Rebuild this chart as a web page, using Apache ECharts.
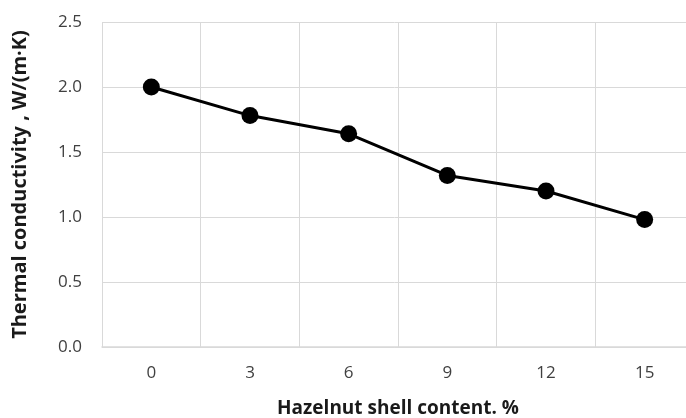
<!DOCTYPE html>
<html>
<head>
<meta charset="utf-8">
<script src="https://cdn.jsdelivr.net/npm/echarts@6/dist/echarts.min.js"></script>
<style>
  html, body { margin: 0; padding: 0; background: #fff; }
  #chart { width: 686px; height: 418px; }
</style>
</head>
<body>
<div id="chart"></div>
<script>
  // shell content, %
  var categories = ['0', '3', '6', '9', '12', '15'];
  // thermal conductivity, W/(m·K)
  var conductivity = [2.0, 1.78, 1.64, 1.32, 1.20, 0.98];

  var font = '"Open Sans", "Liberation Sans", sans-serif';
  var chart = echarts.init(document.getElementById('chart'));

  chart.setOption({
    animation: false,
    grid: {
      left: 102,
      width: 592,   // plot runs a bit past the right edge of the picture
      top: 22,
      height: 325,
      outerBoundsMode: 'none',
      containLabel: false
    },
    xAxis: {
      type: 'category',
      data: categories,
      boundaryGap: true,
      name: 'Hazelnut shell content. %',
      nameLocation: 'middle',
      nameGap: 52,
      nameTextStyle: { fontFamily: font, fontSize: 19, fontWeight: 'bold', color: '#1a1a1a' },
      axisLine: { lineStyle: { color: '#d9d9d9', width: 1.5 } },
      axisTick: { show: false },
      axisLabel: { fontFamily: font, fontSize: 17, color: '#404040', margin: 18 },
      splitLine: { show: true, lineStyle: { color: '#d9d9d9', width: 1 } }
    },
    yAxis: {
      type: 'value',
      min: 0,
      max: 2.5,
      interval: 0.5,
      name: 'Thermal conductivity , W/(m·K)',
      nameLocation: 'middle',
      nameGap: 72,
      nameTextStyle: { fontFamily: font, fontSize: 20, fontWeight: 'bold', color: '#1a1a1a' },
      axisLine: { show: false },
      axisTick: { show: false },
      axisLabel: {
        fontFamily: font, fontSize: 17, color: '#404040', margin: 20,
        formatter: function (v) { return v.toFixed(1); }
      },
      splitLine: { lineStyle: { color: '#d9d9d9', width: 1 } }
    },
    series: [{
      type: 'line',
      data: conductivity,
      symbol: 'circle',
      symbolSize: 17,
      itemStyle: { color: '#000' },
      lineStyle: { color: '#000', width: 3 }
    }]
  });
</script>
</body>
</html>
